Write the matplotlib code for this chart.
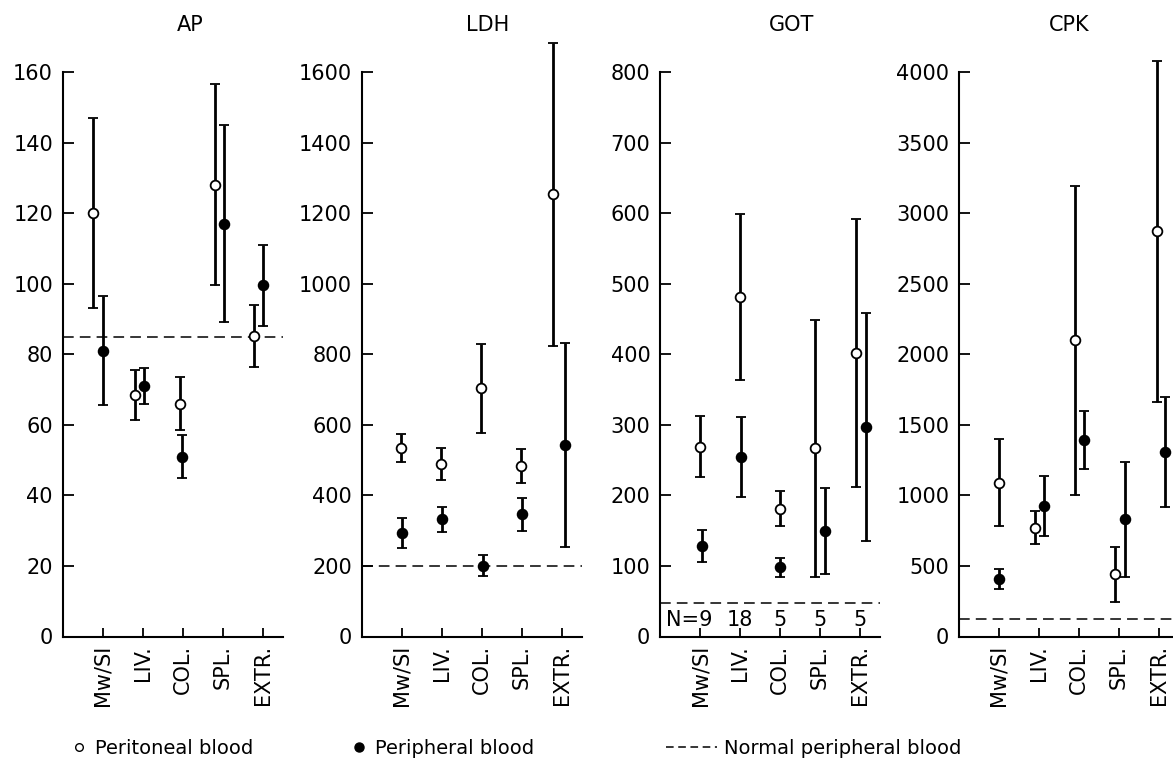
import matplotlib
matplotlib.use("Agg")
import matplotlib.pyplot as plt
from matplotlib.lines import Line2D
import numpy as np

# Categories (source of the blood sample)
sites = ["Mw/SI", "LIV.", "COL.", "SPL.", "EXTR."]
n_counts = [9, 18, 5, 5, 5]

# AP
ap_perit = [120, 68.5, 66, 128, 85.3]
ap_perit_sd = [27, 7, 7.5, 28.5, 8.8]
ap_periph = [81, 71, 51, 117, 99.5]
ap_periph_sd = [15.5, 5, 6, 28, 11.6]
ap_normal = 85

# LDH
ldh_perit = [535, 489, 703, 483, 1253]
ldh_perit_sd = [39, 45, 126, 48, 430]
ldh_periph = [293, 332, 201, 346, 543]
ldh_periph_sd = [43, 36, 30, 47, 290]
ldh_normal = 200

# GOT
got_perit = [269, 481, 181, 267, 402]
got_perit_sd = [43, 118, 25, 182, 190]
got_periph = [128, 254, 98, 150, 297]
got_periph_sd = [23, 57, 13, 61, 162]
got_normal = 48

# CPK
cpk_perit = [1090, 770, 2100, 440, 2870]
cpk_perit_sd = [310, 116, 1095, 195, 1210]
cpk_periph = [409, 925, 1395, 830, 1310]
cpk_periph_sd = [70, 210, 205, 405, 390]
cpk_normal = 125

panels = [
    ("AP", ap_perit, ap_perit_sd, ap_periph, ap_periph_sd, ap_normal, 160, 20),
    ("LDH", ldh_perit, ldh_perit_sd, ldh_periph, ldh_periph_sd, ldh_normal, 1600, 200),
    ("GOT", got_perit, got_perit_sd, got_periph, got_periph_sd, got_normal, 800, 100),
    ("CPK", cpk_perit, cpk_perit_sd, cpk_periph, cpk_periph_sd, cpk_normal, 4000, 500),
]

# layout: small horizontal shifts of the two markers around each tick
open_shift = [[-0.24, -0.2, -0.08, -0.2, -0.23],
              [-0.03, -0.03, -0.03, -0.03, -0.21],
              [0, 0, 0, -0.12, -0.1],
              [0, -0.11, -0.09, -0.1, -0.06]]
fill_shift = [[0, 0.03, -0.03, 0.03, 0],
              [0, 0, 0.03, 0, 0.08],
              [0.04, 0.02, 0, 0.13, 0.14],
              [0, 0.13, 0.13, 0.15, 0.15]]
title_x = [3.2, 3.15, 3.3, 2.75]

W, H = 1173, 765
fig = plt.figure(figsize=(W / 100, H / 100), dpi=100)
plt.rcParams['font.family'] = 'DejaVu Sans'

ax_left = [62.7, 361.7, 660, 959]
ax_bottom = (H - 636.5) / H
ax_height = (636.5 - 72) / H
ax_width = 220 / W

x = np.arange(1, 6)

for i, (name, perit, perit_sd, periph, periph_sd, normal, top, step) in enumerate(panels):
    ax = fig.add_axes([ax_left[i] / W, ax_bottom, ax_width, ax_height])

    ax.axhline(normal, color="black", lw=1.1, ls=(0, (7, 4)), zorder=1)

    for vals, sd, shift, face in [(periph, periph_sd, fill_shift[i], "black"),
                                  (perit, perit_sd, open_shift[i], "white")]:
        eb = ax.errorbar(x + np.array(shift), vals, yerr=sd, fmt="o", color="black",
                         mfc=face, mec="black", ms=7, mew=1.3, elinewidth=2.0,
                         capsize=3.5, capthick=2.0, zorder=3)
        for art in eb.lines[1] + eb.lines[2] + (eb.lines[0],):
            art.set_clip_on(False)
        for art in eb.lines[2]:
            art.set_clip_on(False)

    ax.set_xlim(0, 5.5)
    ax.set_ylim(0, top)
    ax.set_yticks(np.arange(0, top + 1, step))
    ax.set_xticks(x)
    ax.set_xticklabels(sites, rotation=90)

    ax.spines["top"].set_visible(False)
    ax.spines["right"].set_visible(False)
    ax.spines["left"].set_linewidth(1.5)
    ax.spines["bottom"].set_linewidth(1.5)
    ax.tick_params(axis="y", direction="in", length=8, width=1.3, labelsize=15, pad=7)
    ax.tick_params(axis="x", direction="in", length=6.5, width=1.3, labelsize=15, pad=6)

    ax.text(title_x[i], 1.083, name, transform=ax.get_xaxis_transform(),
            ha="center", va="center", fontsize=15)

    if name == "GOT":
        for j, n in enumerate(n_counts):
            if j == 0:
                ax.text(x[j] + 0.32, 23, f"N={n}", ha="right", va="center", fontsize=15)
            else:
                ax.text(x[j], 23, str(n), ha="center", va="center", fontsize=15)

# legend row at the bottom
legend_items = [
    (Line2D([], [], marker="o", ls="none", mfc="white", mec="black", ms=5.5, mew=1.0), "Peritoneal blood", 70),
    (Line2D([], [], marker="o", ls="none", mfc="black", mec="black", ms=6.5), "Peripheral blood", 350),
    (Line2D([], [], color="black", lw=1.1, ls=(0, (5, 3))), "Normal peripheral blood", 666),
]
for handle, label, px in legend_items:
    is_line = label.startswith("Normal")
    fig.legend(handles=[handle], labels=[label], loc="center left",
               bbox_to_anchor=(px / W, (H - 748) / H), frameon=False,
               borderpad=0, borderaxespad=0, fontsize=14,
               handlelength=2.6 if is_line else 0.9, handletextpad=0.4)

fig.savefig("out.png", dpi=100)
